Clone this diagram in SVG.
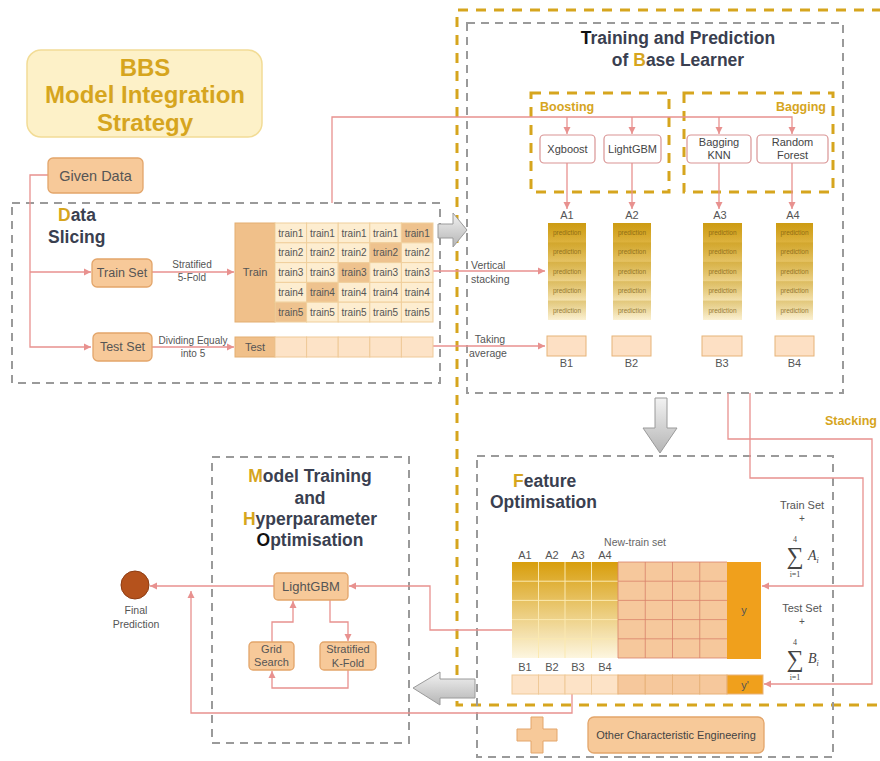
<svg xmlns="http://www.w3.org/2000/svg" width="880" height="761" viewBox="0 0 880 761">
<style>
text{font-family:"Liberation Sans",Arial,sans-serif}
.box{fill:#f7c999;stroke:#e3a56a;stroke-width:1.3}
.mbox{fill:#fff;stroke:#d99494;stroke-width:1.2}
.gd{fill:none;stroke:#9a9a9a;stroke-width:2;stroke-dasharray:8 6}
.gold{fill:none;stroke:#d6a51e;stroke-width:3;stroke-dasharray:10 8}
.ln{fill:none;stroke:#e8918f;stroke-width:1.3}
.ar{marker-end:url(#ah)}
.t{fill:#444;font-size:11px;text-anchor:middle}
.ttl{fill:#3a3f50;font-size:17.5px;font-weight:bold}
.g{fill:#d6a51e}
.k{fill:#111}
.cell{fill:#fdedd0;stroke:#f0cf9c;stroke-width:1}
.hl{fill:#eec28e;stroke:#f0cf9c;stroke-width:1}
.tr{fill:#555;font-size:10px;text-anchor:middle}
.pr{fill:#7a5a10;font-size:6.5px;text-anchor:middle;opacity:.75}
.tc{fill:#fde3c7;stroke:#efc998;stroke-width:1}
.mid{fill:#f6c89c;stroke:#d9826a;stroke-width:.8}
.ag{fill:none;stroke:#fbe9b0;stroke-width:1}
.lbl{fill:#555;font-size:11px;text-anchor:middle}
.blk{fill:url(#gr);stroke:#9a9a9a;stroke-width:1}
.ser{font-family:"Liberation Serif","Times New Roman",serif;fill:#444}
</style>
<defs>
<marker id="ah" markerWidth="8" markerHeight="8" refX="7" refY="4" orient="auto" markerUnits="userSpaceOnUse">
<path d="M0,0.5 L7,4 L0,7.5 Z" fill="#e8918f"/>
</marker>
<linearGradient id="pg" x1="0" y1="0" x2="0" y2="1">
<stop offset="0" stop-color="#d6a31a"/>
<stop offset="1" stop-color="#fbf1d3"/>
</linearGradient>
<linearGradient id="band" x1="0" y1="0" x2="0" y2="1">
<stop offset="0" stop-color="#b88a00" stop-opacity="0.3"/>
<stop offset="1" stop-color="#b88a00" stop-opacity="0"/>
</linearGradient>
<linearGradient id="ag" x1="0" y1="0" x2="0" y2="1">
<stop offset="0" stop-color="#d89e0c"/>
<stop offset="1" stop-color="#fdf6e0"/>
</linearGradient>
<linearGradient id="gr" x1="0" y1="0" x2="0" y2="1">
<stop offset="0" stop-color="#f2f2f2"/>
<stop offset="1" stop-color="#b5b5b5"/>
</linearGradient>
<linearGradient id="grh" x1="0" y1="0" x2="1" y2="0">
<stop offset="0" stop-color="#f2f2f2"/>
<stop offset="1" stop-color="#b5b5b5"/>
</linearGradient>
</defs>

<!-- container boxes -->
<g id="containers">
<path class="gold" d="M882 10 H457 V705 H882"/>
<rect class="gd" x="467" y="23" width="376" height="370"/>
<rect class="gd" x="12" y="203" width="428" height="180"/>
<rect class="gd" x="477" y="456" width="356" height="301"/>
<rect class="gd" x="212" y="457" width="197" height="286"/>
<rect class="gold" x="531" y="93" width="138" height="99"/>
<rect class="gold" x="684" y="93" width="149" height="99"/>
</g>

<g id="title">
<rect x="27" y="50" width="235" height="87" rx="14" fill="#fdf1c8" stroke="#f2dc96" stroke-width="1.5"/>
<text x="145" y="76" font-size="24" font-weight="bold" text-anchor="middle" class="g">BBS</text>
<text x="145" y="103" font-size="24" font-weight="bold" text-anchor="middle" class="g">Model Integration</text>
<text x="145" y="131" font-size="24" font-weight="bold" text-anchor="middle" class="g">Strategy</text>
</g>

<!-- labels of sections -->
<g id="section-titles">
<text class="ttl" x="678" y="44" text-anchor="middle"><tspan class="k">T</tspan>raining and Prediction</text>
<text class="ttl" x="678" y="66" text-anchor="middle">of <tspan class="g">B</tspan>ase Learner</text>
<text class="ttl" x="58" y="221"><tspan class="g">D</tspan>ata</text>
<text class="ttl" x="48" y="243">Slicing</text>
<text class="ttl" x="513" y="487"><tspan class="g">F</tspan>eature</text>
<text class="ttl" x="490" y="508">Optimisation</text>
<text class="ttl" x="310" y="482" text-anchor="middle"><tspan class="g">M</tspan>odel Training</text>
<text class="ttl" x="310" y="504" text-anchor="middle">and</text>
<text class="ttl" x="310" y="525" text-anchor="middle"><tspan class="g">H</tspan>yperparameter</text>
<text class="ttl" x="310" y="546" text-anchor="middle"><tspan class="k">O</tspan>ptimisation</text>
<text x="540" y="111" font-size="12.5" font-weight="bold" class="g">Boosting</text>
<text x="826" y="111" font-size="12.5" font-weight="bold" text-anchor="end" class="g">Bagging</text>
<text x="877" y="425" font-size="12.5" font-weight="bold" text-anchor="end" class="g">Stacking</text>
</g>

<!-- connectors -->
<g id="connectors">
<path class="ln ar" d="M48 175 H30 V347 H91"/>
<path class="ln ar" d="M30 272 H91"/>
<path class="ln ar" d="M152 272 H234"/>
<path class="ln ar" d="M152 347 H234"/>
<path class="ln ar" d="M433 271 H545"/>
<path class="ln ar" d="M433 346 H545"/>
<path class="ln ar" d="M332 203 V117 H792 V134"/>
<path class="ln ar" d="M567 117 V134"/>
<path class="ln ar" d="M632 117 V134"/>
<path class="ln ar" d="M719 117 V134"/>
<path class="ln ar" d="M567 163 V209"/>
<path class="ln ar" d="M632 163 V209"/>
<path class="ln ar" d="M719 163 V209"/>
<path class="ln ar" d="M792 163 V209"/>
<path class="ln ar" d="M728 393 V439 H872 V684 H764"/>
<path class="ln ar" d="M750 393 V478 H863 V586 H762"/>
<path class="ln ar" d="M512 630 H430 V586 H349"/>
<path class="ln ar" d="M572 694 V713 H191 V591"/>
<path class="ln ar" d="M274 586 H150"/>
<path class="ln ar" d="M272 642 V622 H293 V601"/>
<path class="ln ar" d="M330 600 V622 H348 V641"/>
<path class="ln ar" d="M348 670 V688 H272 V671"/>
</g>

<!-- data slicing nodes -->
<g id="given-data">
<rect class="box" x="48" y="158" width="95" height="35" rx="5"/>
<text x="95.5" y="181" font-size="14.5" fill="#555" text-anchor="middle">Given Data</text>
</g>
<g id="train-set">
<rect class="box" x="92" y="259" width="60" height="28" rx="5"/>
<text x="122" y="277" font-size="12.5" fill="#555" text-anchor="middle">Train Set</text>
</g>
<g id="test-set">
<rect class="box" x="93" y="333" width="59" height="28" rx="5"/>
<text x="122.5" y="351" font-size="12.5" fill="#555" text-anchor="middle">Test Set</text>
</g>
<g id="split-labels">
<text class="tr" x="192" y="268">Stratified</text>
<text class="tr" x="192" y="281">5-Fold</text>
<text class="tr" x="193" y="344">Dividing Equaly</text>
<text class="tr" x="193" y="357">into 5</text>
<text x="471" y="269" font-size="10.5" fill="#555">Vertical</text>
<text x="471" y="283" font-size="10.5" fill="#555">stacking</text>
<text x="490" y="343" font-size="10.5" fill="#555" text-anchor="middle">Taking</text>
<text x="488" y="357" font-size="10.5" fill="#555" text-anchor="middle">average</text>
</g>

<g id="train-grid">
<rect x="235" y="223" width="40" height="99" fill="#f0c08a" stroke="#e3ae70"/>
<text x="255" y="276" font-size="11" fill="#555" text-anchor="middle">Train</text>
<rect class="cell" x="275" y="223" width="31.6" height="19.8"/><rect class="cell" x="306.6" y="223" width="31.6" height="19.8"/><rect class="cell" x="338.2" y="223" width="31.6" height="19.8"/><rect class="cell" x="369.8" y="223" width="31.6" height="19.8"/><rect class="hl" x="401.4" y="223" width="31.6" height="19.8"/>
<rect class="cell" x="275" y="242.8" width="31.6" height="19.8"/><rect class="cell" x="306.6" y="242.8" width="31.6" height="19.8"/><rect class="cell" x="338.2" y="242.8" width="31.6" height="19.8"/><rect class="hl" x="369.8" y="242.8" width="31.6" height="19.8"/><rect class="cell" x="401.4" y="242.8" width="31.6" height="19.8"/>
<rect class="cell" x="275" y="262.6" width="31.6" height="19.8"/><rect class="cell" x="306.6" y="262.6" width="31.6" height="19.8"/><rect class="hl" x="338.2" y="262.6" width="31.6" height="19.8"/><rect class="cell" x="369.8" y="262.6" width="31.6" height="19.8"/><rect class="cell" x="401.4" y="262.6" width="31.6" height="19.8"/>
<rect class="cell" x="275" y="282.4" width="31.6" height="19.8"/><rect class="hl" x="306.6" y="282.4" width="31.6" height="19.8"/><rect class="cell" x="338.2" y="282.4" width="31.6" height="19.8"/><rect class="cell" x="369.8" y="282.4" width="31.6" height="19.8"/><rect class="cell" x="401.4" y="282.4" width="31.6" height="19.8"/>
<rect class="hl" x="275" y="302.2" width="31.6" height="19.8"/><rect class="cell" x="306.6" y="302.2" width="31.6" height="19.8"/><rect class="cell" x="338.2" y="302.2" width="31.6" height="19.8"/><rect class="cell" x="369.8" y="302.2" width="31.6" height="19.8"/><rect class="cell" x="401.4" y="302.2" width="31.6" height="19.8"/>
<text class="tr" x="290.8" y="236.5">train1</text><text class="tr" x="322.4" y="236.5">train1</text><text class="tr" x="354" y="236.5">train1</text><text class="tr" x="385.6" y="236.5">train1</text><text class="tr" x="417.2" y="236.5">train1</text>
<text class="tr" x="290.8" y="256.3">train2</text><text class="tr" x="322.4" y="256.3">train2</text><text class="tr" x="354" y="256.3">train2</text><text class="tr" x="385.6" y="256.3">train2</text><text class="tr" x="417.2" y="256.3">train2</text>
<text class="tr" x="290.8" y="276.1">train3</text><text class="tr" x="322.4" y="276.1">train3</text><text class="tr" x="354" y="276.1">train3</text><text class="tr" x="385.6" y="276.1">train3</text><text class="tr" x="417.2" y="276.1">train3</text>
<text class="tr" x="290.8" y="295.9">train4</text><text class="tr" x="322.4" y="295.9">train4</text><text class="tr" x="354" y="295.9">train4</text><text class="tr" x="385.6" y="295.9">train4</text><text class="tr" x="417.2" y="295.9">train4</text>
<text class="tr" x="290.8" y="315.7">train5</text><text class="tr" x="322.4" y="315.7">train5</text><text class="tr" x="354" y="315.7">train5</text><text class="tr" x="385.6" y="315.7">train5</text><text class="tr" x="417.2" y="315.7">train5</text>
</g>

<g id="test-row">
<rect x="235" y="337" width="40" height="20" fill="#f0c08a" stroke="#e3ae70"/>
<text x="255" y="351" font-size="11" fill="#555" text-anchor="middle">Test</text>
<rect class="tc" x="275" y="337" width="31.6" height="20"/><rect class="tc" x="306.6" y="337" width="31.6" height="20"/><rect class="tc" x="338.2" y="337" width="31.6" height="20"/><rect class="tc" x="369.8" y="337" width="31.6" height="20"/><rect class="tc" x="401.4" y="337" width="31.6" height="20"/>
</g>

<!-- block arrows -->
<g id="block-arrows">
<polygon class="blk" points="438,224 453,224 453,213 467,230 453,247 453,238 438,238"/>
<polygon class="blk" fill="url(#grh)" points="655,398 667,398 667,428 677,428 660,453 643,428 655,428"/>
<polygon class="blk" points="475,679 440,679 440,672 413,688 440,705 440,698 475,698"/>
</g>

<!-- base learners -->
<g id="xgboost"><rect class="mbox" x="540" y="135" width="55" height="28" rx="4"/><text class="t" x="567.5" y="153">Xgboost</text></g>
<g id="lightgbm-base"><rect class="mbox" x="604" y="135" width="57" height="28" rx="4"/><text class="t" x="632.5" y="153">LightGBM</text></g>
<g id="bagging-knn"><rect class="mbox" x="687" y="135" width="64" height="28" rx="4"/><text class="t" x="719" y="146">Bagging</text><text class="t" x="719" y="159">KNN</text></g>
<g id="random-forest"><rect class="mbox" x="757" y="135" width="71" height="28" rx="4"/><text class="t" x="792.5" y="146">Random</text><text class="t" x="792.5" y="159">Forest</text></g>

<!-- prediction columns -->
<g id="a1">
<text class="lbl" x="567" y="219">A1</text>
<rect x="548" y="223" width="38" height="97" fill="url(#pg)"/>
<rect x="548" y="223" width="38" height="19.4" fill="url(#band)"/><rect x="548" y="242.4" width="38" height="19.4" fill="url(#band)"/><rect x="548" y="261.8" width="38" height="19.4" fill="url(#band)"/><rect x="548" y="281.2" width="38" height="19.4" fill="url(#band)"/><rect x="548" y="300.6" width="38" height="19.4" fill="url(#band)"/>
<text class="pr" x="567" y="235">prediction</text><text class="pr" x="567" y="254.4">prediction</text><text class="pr" x="567" y="273.8">prediction</text><text class="pr" x="567" y="293.2">prediction</text><text class="pr" x="567" y="312.6">prediction</text>
</g>
<g id="a2">
<text class="lbl" x="632" y="219">A2</text>
<rect x="613" y="223" width="38" height="97" fill="url(#pg)"/>
<rect x="613" y="223" width="38" height="19.4" fill="url(#band)"/><rect x="613" y="242.4" width="38" height="19.4" fill="url(#band)"/><rect x="613" y="261.8" width="38" height="19.4" fill="url(#band)"/><rect x="613" y="281.2" width="38" height="19.4" fill="url(#band)"/><rect x="613" y="300.6" width="38" height="19.4" fill="url(#band)"/>
<text class="pr" x="632" y="235">prediction</text><text class="pr" x="632" y="254.4">prediction</text><text class="pr" x="632" y="273.8">prediction</text><text class="pr" x="632" y="293.2">prediction</text><text class="pr" x="632" y="312.6">prediction</text>
</g>
<g id="a3">
<text class="lbl" x="720" y="219">A3</text>
<rect x="703" y="223" width="39" height="97" fill="url(#pg)"/>
<rect x="703" y="223" width="39" height="19.4" fill="url(#band)"/><rect x="703" y="242.4" width="39" height="19.4" fill="url(#band)"/><rect x="703" y="261.8" width="39" height="19.4" fill="url(#band)"/><rect x="703" y="281.2" width="39" height="19.4" fill="url(#band)"/><rect x="703" y="300.6" width="39" height="19.4" fill="url(#band)"/>
<text class="pr" x="722.5" y="235">prediction</text><text class="pr" x="722.5" y="254.4">prediction</text><text class="pr" x="722.5" y="273.8">prediction</text><text class="pr" x="722.5" y="293.2">prediction</text><text class="pr" x="722.5" y="312.6">prediction</text>
</g>
<g id="a4">
<text class="lbl" x="793" y="219">A4</text>
<rect x="776" y="223" width="37" height="97" fill="url(#pg)"/>
<rect x="776" y="223" width="37" height="19.4" fill="url(#band)"/><rect x="776" y="242.4" width="37" height="19.4" fill="url(#band)"/><rect x="776" y="261.8" width="37" height="19.4" fill="url(#band)"/><rect x="776" y="281.2" width="37" height="19.4" fill="url(#band)"/><rect x="776" y="300.6" width="37" height="19.4" fill="url(#band)"/>
<text class="pr" x="794.5" y="235">prediction</text><text class="pr" x="794.5" y="254.4">prediction</text><text class="pr" x="794.5" y="273.8">prediction</text><text class="pr" x="794.5" y="293.2">prediction</text><text class="pr" x="794.5" y="312.6">prediction</text>
</g>

<g id="b-boxes">
<rect x="547" y="336" width="39" height="20" fill="#fde0c4" stroke="#e6b378"/><text class="lbl" x="566.5" y="367">B1</text>
<rect x="612" y="336" width="39" height="20" fill="#fde0c4" stroke="#e6b378"/><text class="lbl" x="631.5" y="367">B2</text>
<rect x="702" y="336" width="40" height="20" fill="#fde0c4" stroke="#e6b378"/><text class="lbl" x="722" y="367">B3</text>
<rect x="775" y="336" width="39" height="20" fill="#fde0c4" stroke="#e6b378"/><text class="lbl" x="794.5" y="367">B4</text>
</g>

<!-- feature optimisation -->
<g id="new-train-set">
<text x="635" y="546" font-size="10.5" fill="#666" text-anchor="middle">New-train set</text>
<text class="lbl" x="525" y="559">A1</text><text class="lbl" x="552" y="559">A2</text><text class="lbl" x="578" y="559">A3</text><text class="lbl" x="605" y="559">A4</text>
<rect x="512" y="562" width="106" height="96" fill="url(#ag)"/>
<path class="ag" d="M538.5 562V658M565 562V658M591.5 562V658M512 581.2H618M512 600.4H618M512 619.6H618M512 638.8H618"/>
<rect x="618" y="562" width="109" height="96" fill="#f6c89c"/>
<path fill="none" stroke="#d9826a" stroke-width=".8" d="M618 562V658M645.25 562V658M672.5 562V658M699.75 562V658M618 581.2H727M618 600.4H727M618 619.6H727M618 638.8H727M618 562H727M618 658H727"/>
<rect x="727" y="562" width="34" height="97" fill="#f0a01c"/>
<text x="744" y="614" font-size="11" fill="#555" text-anchor="middle">y</text>
</g>
<g id="new-test-set">
<text class="lbl" x="525" y="671">B1</text><text class="lbl" x="552" y="671">B2</text><text class="lbl" x="578" y="671">B3</text><text class="lbl" x="605" y="671">B4</text>
<rect class="tc" x="512" y="675" width="26.5" height="19"/><rect class="tc" x="538.5" y="675" width="26.5" height="19"/><rect class="tc" x="565" y="675" width="26.5" height="19"/><rect class="tc" x="591.5" y="675" width="26.5" height="19"/>
<rect x="618" y="675" width="27.25" height="19" fill="#f6c89c" stroke="#e8b27a"/><rect x="645.25" y="675" width="27.25" height="19" fill="#f6c89c" stroke="#e8b27a"/><rect x="672.5" y="675" width="27.25" height="19" fill="#f6c89c" stroke="#e8b27a"/><rect x="699.75" y="675" width="27.25" height="19" fill="#f6c89c" stroke="#e8b27a"/>
<rect x="727" y="675" width="36" height="19" fill="#f0a01c" stroke="#e8b27a"/>
<text x="745" y="689" font-size="11" fill="#555" text-anchor="middle">y'</text>
</g>

<g id="formulas">
<text x="802" y="509" font-size="11" fill="#555" text-anchor="middle">Train Set</text>
<text x="802" y="522" font-size="10" fill="#555" text-anchor="middle">+</text>
<text class="ser" x="795" y="542" font-size="8" text-anchor="middle">4</text>
<text class="ser" x="795" y="564" font-size="24" text-anchor="middle">∑</text>
<text class="ser" x="795" y="577" font-size="8" text-anchor="middle">i=1</text>
<text class="ser" x="808" y="560" font-size="14" font-style="italic">A<tspan font-size="8" dy="3">i</tspan></text>
<text x="802" y="612" font-size="11" fill="#555" text-anchor="middle">Test Set</text>
<text x="802" y="625" font-size="10" fill="#555" text-anchor="middle">+</text>
<text class="ser" x="795" y="645" font-size="8" text-anchor="middle">4</text>
<text class="ser" x="795" y="667" font-size="24" text-anchor="middle">∑</text>
<text class="ser" x="795" y="680" font-size="8" text-anchor="middle">i=1</text>
<text class="ser" x="808" y="663" font-size="14" font-style="italic">B<tspan font-size="8" dy="3">i</tspan></text>
</g>

<g id="plus">
<path d="M531 717 H543 V729 H557 V741 H543 V753 H531 V741 H517 V729 H531 Z" fill="#f7c999" stroke="#e3a56a" stroke-width="1"/>
</g>
<g id="other-engineering">
<rect class="box" x="588" y="717" width="176" height="36" rx="6"/>
<text x="676" y="739" font-size="11" fill="#444" text-anchor="middle">Other Characteristic Engineering</text>
</g>

<!-- model training -->
<g id="lightgbm-final">
<rect class="box" x="274" y="573" width="74" height="27" rx="4"/>
<text x="311" y="591" font-size="13" fill="#555" text-anchor="middle">LightGBM</text>
</g>
<g id="grid-search">
<rect class="box" x="249" y="642" width="45" height="28" rx="4"/>
<text x="271.5" y="653" font-size="11" fill="#555" text-anchor="middle">Grid</text>
<text x="271.5" y="666" font-size="11" fill="#555" text-anchor="middle">Search</text>
</g>
<g id="stratified-kfold">
<rect class="box" x="320" y="642" width="56" height="28" rx="4"/>
<text x="348" y="653" font-size="11" fill="#555" text-anchor="middle">Stratified</text>
<text x="348" y="667" font-size="11" fill="#555" text-anchor="middle">K-Fold</text>
</g>
<g id="final-prediction">
<circle cx="135" cy="585" r="14" fill="#b5521c" stroke="#8e3c12" stroke-width="1"/>
<text x="136" y="614" font-size="10.5" fill="#555" text-anchor="middle">Final</text>
<text x="136" y="628" font-size="10.5" fill="#555" text-anchor="middle">Prediction</text>
</g>
</svg>
